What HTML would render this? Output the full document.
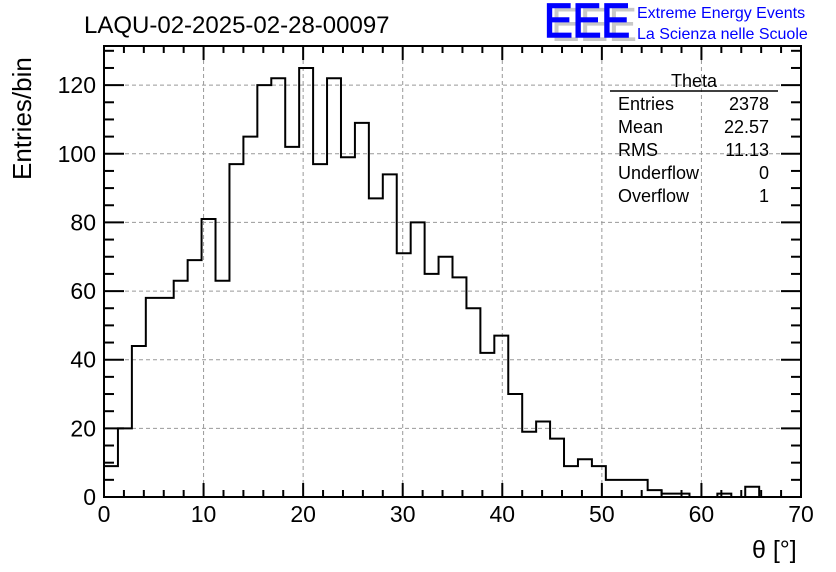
<!DOCTYPE html>
<html><head><meta charset="utf-8"><style>
body{margin:0;background:#fff;}
svg{display:block;font-family:"Liberation Sans",sans-serif;}
</style></head><body>
<svg id="chart" width="836" height="572" viewBox="0 0 836 572" xmlns="http://www.w3.org/2000/svg">
<rect width="836" height="572" fill="#fff"/>
<text x="84" y="33" font-size="24">LAQU-02-2025-02-28-00097</text>
<g>
<text x="551" y="41" font-size="48" fill="#c8c8c8" textLength="86" lengthAdjust="spacingAndGlyphs">EEE</text>
<text x="544" y="37" font-size="48" fill="#0000ff" stroke="#0000ff" stroke-width="1.5" textLength="86" lengthAdjust="spacingAndGlyphs">EEE</text>
<text x="637" y="18" font-size="16" fill="#0000ff">Extreme Energy Events</text>
<text x="637" y="39" font-size="16" fill="#0000ff">La Scienza nelle Scuole</text>
</g>
<g id="grid"></g>
<g id="ticks"></g>
<path id="hist" fill="none" stroke="#000" stroke-width="2"/>
<rect x="104" y="46" width="697" height="451" fill="none" stroke="#000" stroke-width="2"/>
<text transform="translate(31,180) rotate(-90)" font-size="26">Entries/bin</text>
<text x="752" y="558" font-size="25">θ [°]</text>
<g font-size="18">
<text x="694" y="87" text-anchor="middle">Theta</text>
<line x1="610" y1="91" x2="778" y2="91" stroke="#000" stroke-width="1.5"/>
<text x="618" y="110">Entries</text><text x="769" y="110" text-anchor="end">2378</text>
<text x="618" y="133">Mean</text><text x="769" y="133" text-anchor="end">22.57</text>
<text x="618" y="156">RMS</text><text x="769" y="156" text-anchor="end">11.13</text>
<text x="618" y="179">Underflow</text><text x="769" y="179" text-anchor="end">0</text>
<text x="618" y="202">Overflow</text><text x="769" y="202" text-anchor="end">1</text>
</g>
</svg>
<script>
const binWidth = 1.4;
const counts = [9,20,44,58,58,63,69,81,63,97,105,120,122,102,125,97,122,99,109,87,94,71,80,65,70,64,55,42,47,30,19,22,17,9,11,9,5,5,5,2,1,1,0,0,1,0,3,0,0,0];
const xTicks = [0,10,20,30,40,50,60,70];
const yTicks = [0,20,40,60,80,100,120];
const X0=104,X1=801,Y0=497,Y1=46;
const xs = v => X0 + (v-0)/(70-0)*(X1-X0);
const ys = v => Y0 - v/131.4*(Y0-Y1);
const NS="http://www.w3.org/2000/svg";
const grid=document.getElementById('grid'), ticks=document.getElementById('ticks');
function mk(tag,attrs,parent){const e=document.createElementNS(NS,tag);for(const k in attrs)e.setAttribute(k,attrs[k]);parent.appendChild(e);return e;}
xTicks.forEach(t=>{
  const x=xs(t);
  if(t>0&&t<70){const g=mk('line',{x1:x,x2:x,y1:Y1,y2:Y0,stroke:'#999','stroke-dasharray':'4,3','stroke-width':1},grid);
  
  }
  mk('line',{x1:x,x2:x,y1:Y0,y2:Y0-14,stroke:'#000','stroke-width':2},ticks);
  mk('line',{x1:x,x2:x,y1:Y1,y2:Y1+14,stroke:'#000','stroke-width':2},ticks);
  const l=mk('text',{x:x,y:522,'font-size':23,'text-anchor':'middle'},ticks);l.textContent=t;
  
  
});
for(let v=0;v<70;v+=2){if(v%10===0)continue;const x=xs(v);
  mk('line',{x1:x,x2:x,y1:Y0,y2:Y0-7,stroke:'#000','stroke-width':2},ticks);
  mk('line',{x1:x,x2:x,y1:Y1,y2:Y1+7,stroke:'#000','stroke-width':2},ticks);}
yTicks.forEach(t=>{
  const y=ys(t);
  if(t>0){const g=mk('line',{x1:X0,x2:X1,y1:y,y2:y,stroke:'#999','stroke-dasharray':'4,3','stroke-width':1},grid);
  
  }
  mk('line',{x1:X0,x2:X0+20,y1:y,y2:y,stroke:'#000','stroke-width':2},ticks);
  mk('line',{x1:X1,x2:X1-20,y1:y,y2:y,stroke:'#000','stroke-width':2},ticks);
  const l=mk('text',{x:96,y:y+8,'font-size':23,'text-anchor':'end'},ticks);l.textContent=t;
  
  
});
for(let v=0;v<131;v+=5){if(v%20===0)continue;const y=ys(v);
  mk('line',{x1:X0,x2:X0+10,y1:y,y2:y,stroke:'#000','stroke-width':2},ticks);
  mk('line',{x1:X1,x2:X1-10,y1:y,y2:y,stroke:'#000','stroke-width':2},ticks);}
let d='M'+xs(0)+','+ys(0);
counts.forEach((c,i)=>{d+=' L'+xs(i*binWidth)+','+ys(c)+' L'+xs((i+1)*binWidth)+','+ys(c);});
d+=' L'+xs(counts.length*binWidth)+','+ys(0);
document.getElementById('hist').setAttribute('d',d);
</script>
</body></html>
